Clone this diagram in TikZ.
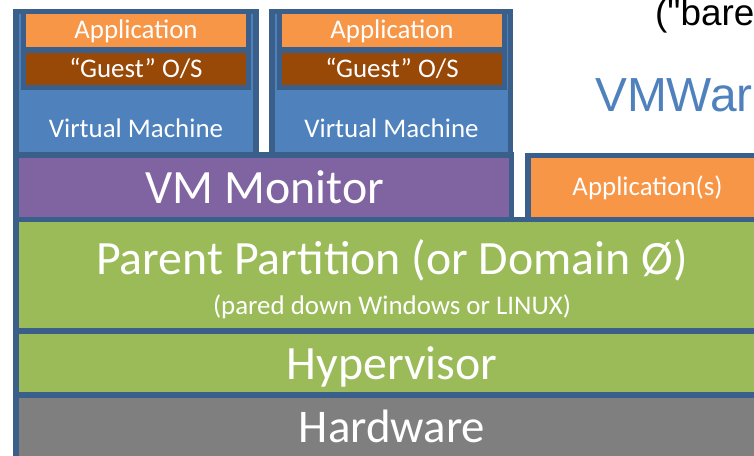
\documentclass[tikz,border=0pt]{standalone}
\usepackage{fontspec}
\setmainfont{Carlito}
\newfontfamily\arialf{Liberation Sans}
\definecolor{bordc}{HTML}{3A5F8B}
\definecolor{vmblue}{HTML}{4F81BD}
\definecolor{apporange}{HTML}{F79646}
\definecolor{osbrown}{HTML}{984807}
\definecolor{monpurple}{HTML}{8064A2}
\definecolor{layergreen}{HTML}{9BBB59}
\definecolor{hwgray}{HTML}{7F7F7F}
\definecolor{titleblue}{HTML}{4F81BD}
\begin{document}
\begin{tikzpicture}[x=1bp,y=-1bp,
  box/.style={draw=bordc, line width=5.5bp, rectangle, inner sep=0pt, outer sep=0pt},
  lbl/.style={text=white, inner sep=0pt, anchor=base},
  small/.style={font=\fontsize{27}{31}\selectfont},
  big/.style={font=\fontsize{48}{54}\selectfont}]
\useasboundingbox (0,0) rectangle (754,456);
\clip (0,0) rectangle (754,456);
% virtual machines
\node[box, fill=vmblue, minimum width=240bp, minimum height=143.5bp] (vm1) at (136,83.25) {};
\node[box, fill=vmblue, minimum width=238.5bp, minimum height=143.5bp] (vm2) at (391.25,83.25) {};
\node[box, fill=apporange, minimum width=225bp, minimum height=38.5bp] (app1) at (136,30.75) {};
\node[box, fill=osbrown, minimum width=225bp, minimum height=37.5bp] (os1) at (136,68.75) {};
\node[box, fill=apporange, minimum width=225bp, minimum height=38.5bp] (app2) at (392,30.75) {};
\node[box, fill=osbrown, minimum width=225bp, minimum height=37.5bp] (os2) at (392,68.75) {};
\node[lbl, small] (app1t) at (136,39) {Application};
\node[lbl, small] (os1t) at (136,77.5) {“Guest” O/S};
\node[lbl, small] (vm1t) at (136,138) {Virtual Machine};
\node[lbl, small] (app2t) at (392,39) {Application};
\node[lbl, small] (os2t) at (392,77.5) {“Guest” O/S};
\node[lbl, small] (vm2t) at (391.5,138) {Virtual Machine};
% layers
\node[box, fill=monpurple, minimum width=495.5bp, minimum height=64.5bp] (mon) at (263.75,187.25) {};
\node[lbl, big] (mont) at (265,203.5) {VM Monitor};
\node[box, fill=apporange, minimum width=239bp, minimum height=64bp] (apps) at (647.5,187.5) {};
\node[lbl, small] (appst) at (647.5,196) {Application(s)};
\node[box, fill=layergreen, minimum width=752bp, minimum height=111.5bp] (parent) at (392,275.25) {};
\node[lbl, big] (parentt) at (392,275) {Parent Partition (or Domain Ø)};
\node[lbl, small] (parents) at (392,315) {(pared down Windows or LINUX)};
\node[box, fill=layergreen, minimum width=752bp, minimum height=64bp] (hyp) at (392,363) {};
\node[lbl, big] (hypt) at (392,379.5) {Hypervisor};
\node[box, fill=hwgray, minimum width=752bp, minimum height=66bp] (hw) at (392,428) {};
\node[lbl, font=\fontsize{47}{53}\selectfont] (hwt) at (392,442) {Hardware};
% titles
\node[inner sep=0pt, anchor=base west, font=\arialf\fontsize{37}{42}\selectfont, text=black] (bare) at (655,25.5) {("bare};
\node[inner sep=0pt, anchor=base west, font=\arialf\fontsize{48}{54}\selectfont, text=titleblue] (vmw) at (595,112) {VMWar};
\end{tikzpicture}
\end{document}
